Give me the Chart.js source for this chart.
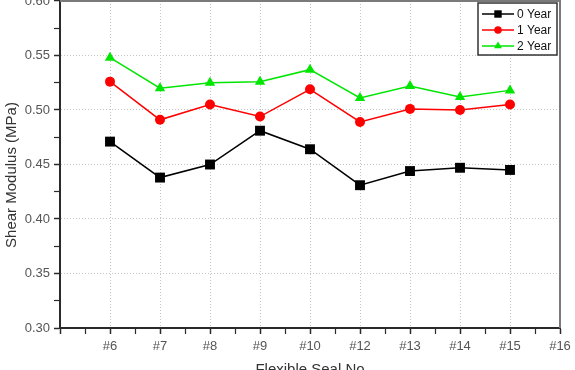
<!DOCTYPE html>
<html>
<head>
<meta charset="utf-8">
<script src="https://cdn.jsdelivr.net/npm/chart.js@4.4.1/dist/chart.umd.min.js"></script>
<style>
html, body { margin: 0; padding: 0; background: #fff; }
#chart { display: block; }
</style>
</head>
<body>
<canvas id="chart" width="575" height="370"></canvas>
<script>
// x positions: slot 0 is blank, #16 is the last (empty) slot
const seals = ["", "#6", "#7", "#8", "#9", "#10", "#12", "#13", "#14", "#15", "#16"]
const yearNames = ["0 Year", "1 Year", "2 Year"]
const year0 = [0.471, 0.438, 0.450, 0.481, 0.464, 0.431, 0.444, 0.447, 0.445]
const year1 = [0.526, 0.491, 0.505, 0.494, 0.519, 0.489, 0.501, 0.500, 0.505]
const year2 = [0.548, 0.520, 0.525, 0.526, 0.537, 0.511, 0.522, 0.512, 0.518]
const yMin = 0.30
const yMax = 0.60
const yTitle = "Shear Modulus (MPa)"

const colors = ["#000000", "#ff0000", "#00e600"]
const shapes = ["rect", "circle", "triangle"]
const radii = [7, 5, 6]
const fontFamily = "'Liberation Sans', Arial, sans-serif"

const isWhole = (v, step) => Math.abs(v / step - Math.round(v / step)) < 1e-6

function points(vals){
    return vals.map((v, i) => ({x: i + 1, y: v}))
}

const frameAndLegend = {
    id: "frameAndLegend",
    afterDraw(chart){
        const ctx = chart.ctx
        const a = chart.chartArea
        ctx.save()
        // top and right frame
        ctx.strokeStyle = "#7a7a7a"
        ctx.lineWidth = 2
        ctx.beginPath()
        ctx.moveTo(a.left, a.top)
        ctx.lineTo(a.right, a.top)
        ctx.lineTo(a.right, a.bottom)
        ctx.stroke()

        // y title, sits a little below the middle of the axis
        ctx.save()
        ctx.translate(12, 175)
        ctx.rotate(-Math.PI / 2)
        ctx.font = "15px " + fontFamily
        ctx.fillStyle = "#333"
        ctx.textAlign = "center"
        ctx.textBaseline = "middle"
        ctx.fillText(yTitle, 0, 0)
        ctx.restore()

        // legend box
        const bx = 478, by = 3, bw = 79, bh = 52
        ctx.fillStyle = "#fff"
        ctx.fillRect(bx, by, bw, bh)
        ctx.strokeStyle = "#333"
        ctx.lineWidth = 1.5
        ctx.strokeRect(bx, by, bw, bh)
        ctx.font = "12px " + fontFamily
        ctx.textBaseline = "middle"
        chart.data.datasets.forEach((ds, i) => {
            const y = 14 + i * 16
            ctx.strokeStyle = ds.borderColor
            ctx.lineWidth = 1.5
            ctx.beginPath()
            ctx.moveTo(482, y)
            ctx.lineTo(514, y)
            ctx.stroke()
            ctx.fillStyle = ds.borderColor
            Chart.helpers.drawPoint(ctx, {pointStyle: ds.pointStyle, radius: ds.pointRadius * 0.75, borderWidth: 0}, 498, y)
            ctx.fillStyle = "#111"
            ctx.fillText(ds.label, 517, y + 1)
        })
        ctx.restore()
    }
}

const tickFont = {family: fontFamily, size: 13}

new Chart(document.getElementById("chart"), {
    type: "line",
    data: {
        datasets: [year0, year1, year2].map((vals, i) => ({
            label: yearNames[i],
            data: points(vals),
            borderColor: colors[i],
            backgroundColor: colors[i],
            borderWidth: 1.5,
            pointStyle: shapes[i],
            pointRadius: radii[i],
            pointBorderWidth: 0,
            tension: 0
        }))
    },
    options: {
        responsive: false,
        animation: false,
        layout: {autoPadding: false, padding: {top: 1, right: 15, left: 0, bottom: 0}},
        plugins: {legend: {display: false}, tooltip: {enabled: false}},
        scales: {
            x: {
                type: "linear",
                min: 0,
                max: seals.length - 1,
                afterFit: s => { s.height = 42; s.paddingLeft = 0; s.paddingRight = 0 },
                afterBuildTicks: s => {
                    s.ticks = []
                    for (let v = 0; v <= seals.length - 1 + 1e-9; v += 0.5) s.ticks.push({value: v})
                },
                ticks: {
                    autoSkip: false,
                    maxRotation: 0,
                    padding: 5,
                    color: "#555",
                    font: tickFont,
                    callback: v => isWhole(v, 1) ? seals[Math.round(v)] : ""
                },
                border: {color: "#2a2a2a", width: 2, dash: [1, 2]},
                grid: {
                    tickLength: 6,
                    tickColor: "#2a2a2a",
                    tickWidth: c => isWhole(c.tick.value, 1) ? 1.5 : 1.2,
                    color: c => (c.tick && isWhole(c.tick.value, 1) && c.tick.value > 0 && c.tick.value < seals.length - 1) ? "#c4c4c4" : "rgba(0,0,0,0)",
                    lineWidth: 1
                },
                title: {
                    display: true,
                    text: "Flexible Seal No",
                    color: "#333",
                    font: {family: fontFamily, size: 15},
                    padding: {top: 0, bottom: -9}
                }
            },
            y: {
                min: yMin,
                max: yMax,
                afterFit: s => { s.width = 60; s.paddingTop = 0; s.paddingBottom = 0 },
                afterBuildTicks: s => {
                    s.ticks = []
                    for (let k = 0; k <= 12; k++) s.ticks.push({value: yMin + k * 0.025})
                },
                ticks: {
                    autoSkip: false,
                    padding: 4,
                    color: "#555",
                    font: tickFont,
                    callback: v => isWhole(v, 0.05) ? v.toFixed(2) : ""
                },
                border: {color: "#2a2a2a", width: 2, dash: [1, 2]},
                grid: {
                    tickLength: 6,
                    tickColor: "#2a2a2a",
                    tickWidth: c => isWhole(c.tick.value, 0.05) ? 1.5 : 1.2,
                    color: c => (c.tick && isWhole(c.tick.value, 0.05) && c.tick.value > yMin + 1e-6 && c.tick.value < yMax - 1e-6) ? "#c4c4c4" : "rgba(0,0,0,0)",
                    lineWidth: 1
                }
            }
        }
    },
    plugins: [frameAndLegend]
})
</script>
</body>
</html>
